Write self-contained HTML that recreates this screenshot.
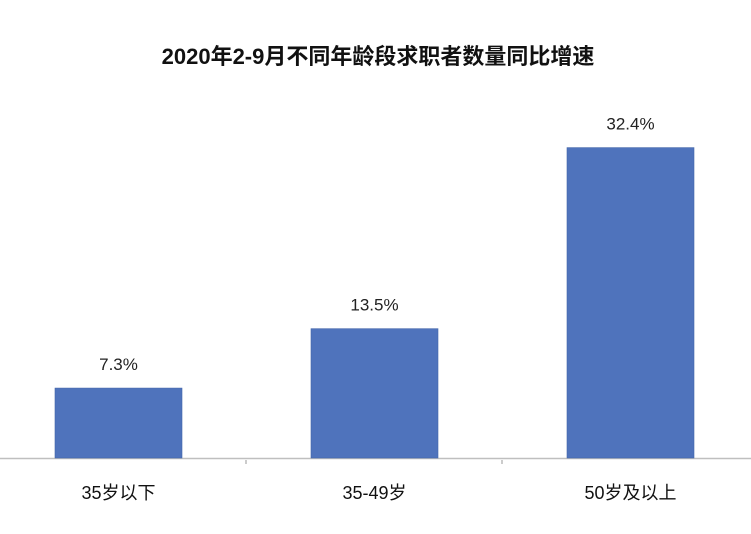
<!DOCTYPE html>
<html><head><meta charset="utf-8"><style>
body{margin:0;background:#fff;}
svg text{font-family:"Liberation Sans","Noto Sans CJK SC",sans-serif;}
</style></head><body>
<svg id="c" width="751" height="529">
<text x="378" y="64" text-anchor="middle" font-size="22" font-weight="bold" fill="#111">2020年2-9月不同年龄段求职者数量同比增速</text>
<line x1="0" y1="458.5" x2="751" y2="458.5" stroke="#bfbfbf" stroke-width="1.5"/>
<line x1="246" y1="460" x2="246" y2="464" stroke="#999"/>
<line x1="502" y1="460" x2="502" y2="464" stroke="#999"/>
<g id="bars"></g>
</svg>
<script>
const categories=["35岁以下","35-49岁","50岁及以上"];
const values=[7.3,13.5,32.4];
const valueLabels=["7.3%","13.5%","32.4%"];
const base=458, scale=9.58, band=256, x0=-10, bw=127;
const ns="http://www.w3.org/2000/svg";
const g=document.getElementById('bars');
function xc(i){return x0+band*i+band/2+broadcast(i);}
function broadcast(i){return 0;}
function y(v){return base-v*scale;}
categories.forEach((c,i)=>{
  const cx=118.5+band*i;
  const r=document.createElementNS(ns,'rect');
  r.setAttribute('x',cx-bw/2);r.setAttribute('y',y(values[i]));
  r.setAttribute('width',bw);r.setAttribute('height',base-y(values[i]));
  r.setAttribute('fill','#4f73bc');r.setAttribute('stroke','#4466aa');r.setAttribute('stroke-width','0.6');
  
  
  g.appendChild(r);
  const t=document.createElementNS(ns,'text');
  t.setAttribute('x',cx);t.setAttribute('y',y(values[i])-18);
  t.setAttribute('text-anchor','middle');t.setAttribute('font-size','17');t.setAttribute('fill','#222');
  t.textContent=valueLabels[i];
  
  
  g.appendChild(t);
  const l=document.createElementNS(ns,'text');
  l.setAttribute('x',cx);l.setAttribute('y',499);
  l.setAttribute('text-anchor','middle');l.setAttribute('font-size','18');l.setAttribute('fill','#111');
  l.textContent=c;
  
  
  g.appendChild(l);
});
</script>
</body></html>
